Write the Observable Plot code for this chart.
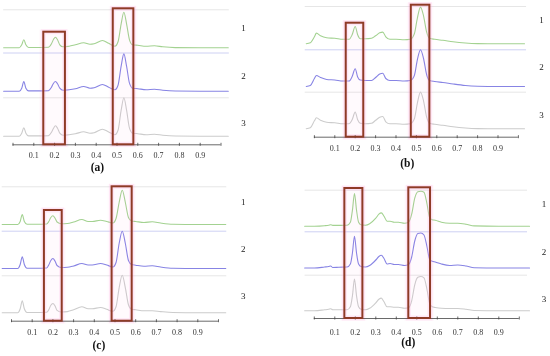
<!DOCTYPE html>
<html>
<head>
<meta charset="utf-8">
<script src="https://cdn.jsdelivr.net/npm/d3@7"></script>
<script src="https://cdn.jsdelivr.net/npm/@observablehq/plot@0.6"></script>
<style>
  html, body { margin: 0; padding: 0; background: #fff; }
  #wrap { position: relative; width: 550px; height: 356px; overflow: hidden; background: #fff; }
  .panel { position: absolute; will-change: transform; }
  .panel text { -webkit-font-smoothing: antialiased; }
</style>
</head>
<body>
<div id="wrap"></div>
<script>
// ---------- data ----------
const tickLabels = [0.1, 0.2, 0.3, 0.4, 0.5, 0.6, 0.7, 0.8, 0.9];
const axisTicks = [0, 0.1, 0.2, 0.3, 0.4, 0.5, 0.6, 0.7, 0.8, 0.9, 1.0];
const traceNames = ["1", "2", "3"];
const panelNames = ["(a)", "(b)", "(c)", "(d)"];

// panel (a)
const xA = [-0.045, 0, 0.03, 0.042, 0.052, 0.062, 0.075, 0.12, 0.17, 0.185, 0.195, 0.204, 0.214, 0.225, 0.24, 0.27, 0.3, 0.34, 0.37, 0.39, 0.43, 0.46, 0.49, 0.505, 0.52, 0.533, 0.546, 0.56, 0.575, 0.6, 0.64, 0.68, 0.72, 0.78, 0.9, 1.035];
const greenA = [0, 0, 0, 3, 8, 3, 0.3, 0.3, 0.5, 4, 8.5, 10.6, 8, 3, 1, 1.5, 3, 5, 3.5, 4, 7.3, 4.5, 1.5, 6, 24, 35.6, 24, 8, 3, 2.5, 1.5, 2, 1, 0.2, 0, 0];
const blueA  = [0, 0, 0, 3, 9.7, 3, 0.3, 0.3, 0.5, 4, 8, 9.7, 7.5, 3, 1, 1.5, 2.5, 4.7, 3, 3.5, 6.7, 4, 1.5, 6, 25, 37.3, 25, 8, 3, 2.5, 1.5, 2, 1, 0.2, 0, 0];
const grayA  = [0, 0, 0, 3, 8.4, 3, 0.3, 0.3, 0.5, 4, 8, 10.4, 8, 3, 1, 1.5, 2.5, 4.4, 3, 3.5, 7, 4.2, 1.5, 6, 26, 38.4, 26, 8, 3, 2.5, 1.5, 2, 1, 0.2, 0, 0];
const boxesA = [[0.148, 0.252], [0.482, 0.581]];

// panel (b)
const xB = [-0.04, -0.02, 0, 0.01, 0.03, 0.06, 0.1, 0.14, 0.17, 0.185, 0.2, 0.212, 0.225, 0.25, 0.28, 0.3, 0.32, 0.335, 0.35, 0.37, 0.4, 0.44, 0.47, 0.49, 0.505, 0.52, 0.535, 0.55, 0.565, 0.59, 0.63, 0.68, 0.74, 0.8, 0.9, 1.03];
const greenB = [0, 1, 7, 10.7, 8, 6, 5.5, 4.5, 4.5, 9, 17.3, 9, 5, 5, 5.5, 8, 11, 11.7, 7, 4.5, 4.5, 4, 4.5, 10, 26, 36.7, 28, 12, 5.5, 4.5, 3.5, 2, 0.8, 0.2, 0, 0];
const blueB  = [0, 1, 8, 11, 9, 7, 6.5, 5.5, 5.5, 10, 17.7, 9.5, 6.5, 6, 6, 9, 12.5, 13.3, 8, 6, 6, 5.5, 6, 11, 27, 36.7, 28, 12, 6, 5, 4, 2.5, 1, 0.3, 0, 0];
const grayB  = [0, 1, 8, 11, 8.5, 6.5, 6, 5, 5, 9, 16.7, 9, 5.5, 5, 5.5, 8.5, 11.5, 12.3, 7, 5, 5, 4.5, 5, 10, 26, 36.7, 28, 12, 5.5, 4.5, 3.5, 2, 0.8, 0.2, 0, 0];
const boxesB = [[0.156, 0.242], [0.475, 0.566]];

// panel (c)
const xC = [-0.045, 0, 0.03, 0.042, 0.052, 0.062, 0.075, 0.12, 0.17, 0.18, 0.19, 0.2, 0.21, 0.22, 0.24, 0.27, 0.3, 0.34, 0.37, 0.39, 0.43, 0.46, 0.49, 0.505, 0.52, 0.535, 0.55, 0.565, 0.58, 0.6, 0.64, 0.68, 0.72, 0.78, 0.9, 1.035];
const greenC = [0, 0, 0, 3, 10, 3, 0.3, 0.3, 0.5, 3, 7, 8.7, 6.5, 2.5, 0.8, 1, 2.5, 5, 3, 3, 4.3, 3, 1.5, 6, 22, 34.3, 22, 7, 3.5, 3, 2, 2.7, 1.5, 0.3, 0, 0];
const blueC  = [0, 0, 0, 4, 11.7, 4, 0.3, 0.3, 0.5, 3.5, 8, 10, 7.5, 3, 1, 1.2, 2.5, 5, 3.5, 3.5, 5, 3.5, 1.5, 6, 25, 37.3, 25, 8, 4, 3.3, 2.2, 2.7, 1.5, 0.3, 0, 0];
const grayC  = [0, 0, 0, 4, 12, 4, 0.3, 0.3, 0.5, 3, 7.5, 9.3, 7, 2.5, 0.8, 1.2, 3, 6, 4, 4, 5.3, 3.5, 1.5, 6, 25, 37.6, 25, 8, 3.5, 3, 2, 2, 1.2, 0.3, 0, 0];
const boxesC = [[0.159, 0.245], [0.486, 0.583]];

// panel (d)
const xD = [-0.047, 0, 0.05, 0.07, 0.08, 0.09, 0.12, 0.16, 0.176, 0.186, 0.196, 0.206, 0.216, 0.228, 0.25, 0.27, 0.3, 0.315, 0.327, 0.34, 0.355, 0.37, 0.39, 0.41, 0.44, 0.46, 0.475, 0.49, 0.505, 0.52, 0.535, 0.55, 0.562, 0.575, 0.59, 0.62, 0.66, 0.7, 0.74, 0.78, 0.9, 1.05];
const greenD = [0, 0, 0.5, 1, 1.5, 0.8, 0.8, 1, 4, 16, 32.7, 16, 4, 1.5, 1, 2.5, 8, 12, 13.3, 10, 5, 5, 4, 4, 3, 4, 12, 28, 34.5, 35, 34, 22, 9, 6.5, 6, 4, 3, 3, 2, 0.3, 0, 0];
const blueD  = [0, 0, 1, 1.5, 2, 0.5, 0.8, 1, 4, 15, 31.7, 15, 4, 1.5, 1, 2.5, 8, 11.5, 12.7, 9.5, 4, 4.5, 3.5, 3.5, 2.5, 3.5, 11, 27, 34.5, 35, 33, 21, 9, 6.7, 6, 4, 2.5, 3, 2, 0.3, 0, 0];
const grayD  = [0, 0, 1, 1.5, 2, 1, 1, 1, 4, 15, 31.7, 15, 4, 1.5, 1, 2.5, 8, 11.5, 12.7, 9, 4, 4, 3.5, 3.5, 2.5, 3, 10, 26, 33.5, 34.3, 33, 21, 8, 4, 3.3, 2.5, 2.3, 2.3, 1.5, 0.3, 0, 0];
const boxesD = [[0.149, 0.237], [0.461, 0.567]];

// ---------- layout ----------
const colors = ["#a3d291", "#8784e4", "#cccccc"];
const sepColors = ["#e6e6e6", "#ced1f3", "#e6e6e6"];
const boxColor = "#8f3b27";

const panels = [
  {name: panelNames[0], left: 0, top: 0, mL: 12.5, mR: 54.5, axis: 144.3,
   x: xA, series: [greenA, blueA, grayA], boxes: boxesA,
   offsets: [97, 53.6, 8.6], seps: [135, 91.8, 47], boxTops: [112.6, 136],
   labelX: 1.108, labelY: [116.3, 68.3, 21.3], capX: 0.406, capY: -22.7, tickY: -11},
  {name: panelNames[1], left: 275, top: 0, mL: 38.9, mR: 32.1, axis: 136.7,
   x: xB, series: [greenB, blueB, grayB], boxes: boxesB,
   offsets: [93.4, 50.7, 8.4], seps: [130.7, 87.4, 45], boxTops: [114, 132],
   labelX: 1.113, labelY: [117.4, 70, 22.4], capX: 0.455, capY: -26.6, tickY: -11},
  {name: panelNames[2], left: 0, top: 178, mL: 11, mR: 57, axis: 142.7,
   x: xC, series: [greenC, blueC, grayC], boxes: boxesC,
   offsets: [96.7, 52.7, 8.4], seps: [134.4, 90, 45.4], boxTops: [110.7, 134.4],
   labelX: 1.119, labelY: [118.7, 72, 25.4], capX: 0.422, capY: -24, tickY: -11.6},
  {name: panelNames[3], left: 275, top: 178, mL: 38.8, mR: 31.2, axis: 140,
   x: xD, series: [greenD, blueD, grayD], boxes: boxesD,
   offsets: [92.3, 50.5, 7.7], seps: [128.3, 86.7, 43.3], boxTops: [130, 130.7],
   labelX: 1.12, labelY: [114, 66, 19.3], capX: 0.458, capY: -24.3, tickY: -13.5}
];

const wrap = document.getElementById("wrap");
const serif = "Liberation Serif, Times New Roman, serif";

for (const p of panels) {
  const H = 178, W = 275;
  const marks = [];
  // separators
  p.seps.forEach((s, i) => {
    marks.push(Plot.ruleY([s], {x1: -0.045, x2: 1.04, stroke: sepColors[i], strokeWidth: 1}));
  });
  // traces
  p.series.forEach((vals, i) => {
    const rows = p.x.map((x, j) => ({x, y: p.offsets[i] + vals[j]}));
    marks.push(Plot.line(rows, {x: "x", y: "y", stroke: colors[i], strokeWidth: 1.1, curve: "monotone-x"}));
  });
  // pink glow over boxes
  const boxRows = p.boxes.map((b, i) => ({x1: b[0], x2: b[1], y1: 0, y2: p.boxTops[i]}));
  marks.push(Plot.rect(boxRows, {x1: "x1", x2: "x2", y1: "y1", y2: "y2", fill: "#ff7fc8", fillOpacity: 0.04,
    insetLeft: -4, insetRight: -4, insetTop: -2, insetBottom: -3}));
  marks.push(Plot.rect(boxRows, {x1: "x1", x2: "x2", y1: "y1", y2: "y2", fill: "none", stroke: "#ffb3e0",
    strokeWidth: 5, strokeOpacity: 0.3}));
  // axis line and ticks
  marks.push(Plot.ruleY([0], {x1: 0, x2: 1, stroke: "#444", strokeWidth: 0.8}));
  marks.push(Plot.ruleX(axisTicks, {x: d => d, y1: -1.5, y2: 1.5, stroke: "#444", strokeWidth: 0.8}));
  marks.push(Plot.text(tickLabels, {x: d => d, y: p.tickY, text: d => d.toFixed(1), fontSize: 8, fill: "#333", fontFamily: serif}));
  // red boxes
  marks.push(Plot.rect(boxRows, {x1: "x1", x2: "x2", y1: "y1", y2: "y2", fill: "none", stroke: boxColor, strokeWidth: 2}));
  // trace labels
  marks.push(Plot.text(traceNames, {x: p.labelX, y: (d, i) => p.labelY[i], text: d => d, fontSize: 9, fill: "#222", fontFamily: serif}));
  // caption
  marks.push(Plot.text([p.name], {x: p.capX, y: p.capY, text: d => d, fontSize: 11.5, fontWeight: "bold", fill: "#111", fontFamily: serif}));

  const chart = Plot.plot({
    width: W, height: H,
    marginLeft: p.mL, marginRight: p.mR, marginTop: 0, marginBottom: H - p.axis,
    x: {domain: [0, 1], axis: null},
    y: {domain: [0, 100], range: [p.axis, p.axis - 100], axis: null},
    style: {background: "transparent", overflow: "visible"},
    marks
  });
  chart.classList.add("panel");
  chart.style.left = p.left + "px";
  chart.style.top = p.top + "px";
  wrap.appendChild(chart);
}
</script>
</body>
</html>
